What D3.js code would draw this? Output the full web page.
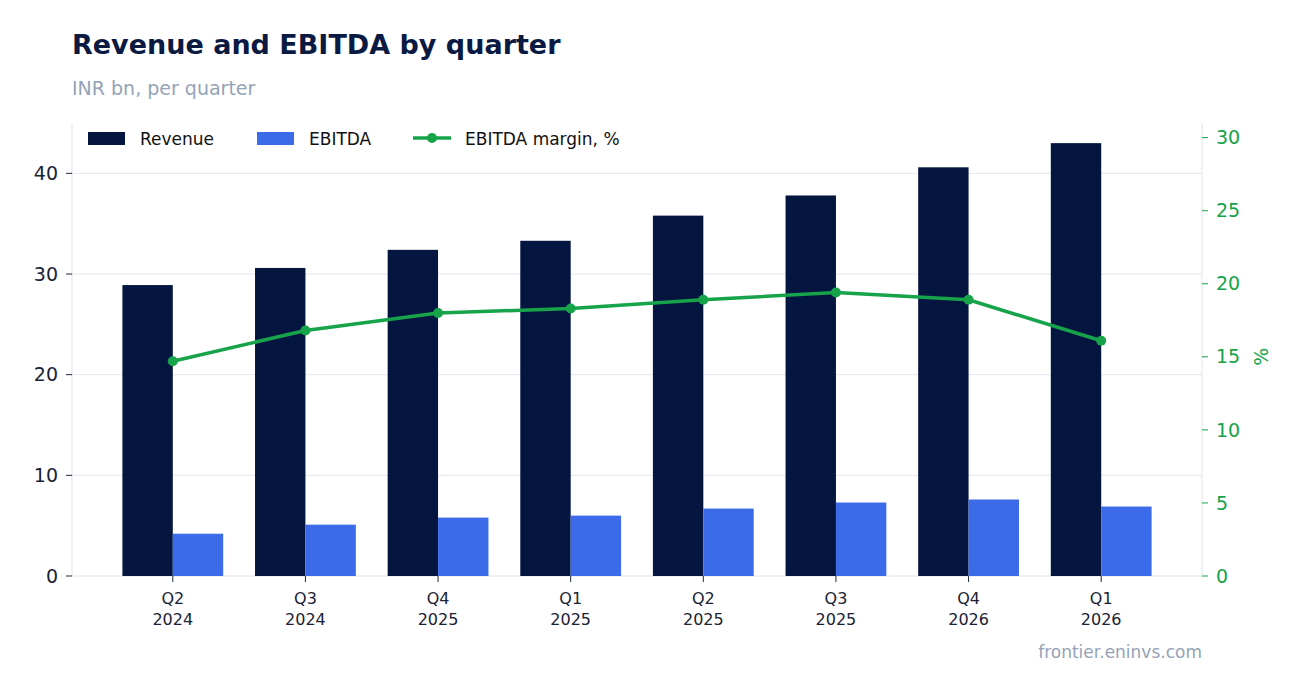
<!DOCTYPE html><html><head><meta charset="utf-8"><script src="https://cdn.jsdelivr.net/npm/d3@7"></script>
<style>body{margin:0;background:#fff;font-family:"DejaVu Sans",sans-serif}</style></head><body><svg id="c" width="1302" height="693"></svg>
<script>
const categories=["Q2\n2024","Q3\n2024","Q4\n2025","Q1\n2025","Q2\n2025","Q3\n2025","Q4\n2026","Q1\n2026"];
const revenue=[28.9,30.6,32.4,33.3,35.8,37.8,40.6,43.0];
const ebitda=[4.2,5.1,5.8,6.0,6.7,7.3,7.6,6.9];
const margin=[14.7,16.8,18.0,18.3,18.9,19.4,18.9,16.1];
const leftTicks=[0,10,20,30,40], rightTicks=[0,5,10,15,20,25,30];
const svg=d3.select("#c");
const L=72,R=1202,T=123,B=576;
const x=d3.scalePoint().domain(categories).range([L,R]).padding(0.76);
const y=d3.scaleLinear().domain([0,45]).range([B,T]);
const y2=d3.scaleLinear().domain([0,31]).range([B,T]);
const bw=x.step()*0.38;
svg.append("text").attr("x",72).attr("y",54).text("Revenue and EBITDA by quarter").attr("font-size",27).attr("font-weight","bold").attr("fill","#0b1a42");
svg.append("text").attr("x",72).attr("y",95).text("INR bn, per quarter").attr("font-size",19).attr("fill","#94a3b8");
svg.append("g").selectAll("line").data(leftTicks.slice(1)).join("line").attr("x1",L).attr("x2",R).attr("y1",d=>y(d)).attr("y2",d=>y(d)).attr("stroke","#e3e6f0");
svg.append("line").attr("x1",L).attr("x2",L).attr("y1",T).attr("y2",B).attr("stroke","#dfe3ec");
svg.append("line").attr("x1",R).attr("x2",R).attr("y1",T).attr("y2",B).attr("stroke","#dfe3ec");
svg.append("line").attr("x1",L).attr("x2",R).attr("y1",B).attr("y2",B).attr("stroke","#dfe3ec");
svg.append("g").selectAll("rect").data(revenue).join("rect").attr("x",(d,i)=>x(categories[i])-bw).attr("width",bw).attr("y",d=>y(d)).attr("height",d=>B-y(d)).attr("fill","#041640");
svg.append("g").selectAll("rect").data(ebitda).join("rect").attr("x",(d,i)=>x(categories[i])).attr("width",bw).attr("y",d=>y(d)).attr("height",d=>B-y(d)).attr("fill","#3b6be8");
const line=d3.line().x((d,i)=>x(categories[i])).y(d=>y2(d));
svg.append("path").datum(margin).attr("d",line).attr("fill","none").attr("stroke","#16a34a").attr("stroke-width",3.5);
svg.append("g").selectAll("circle").data(margin).join("circle").attr("cx",(d,i)=>x(categories[i])).attr("cy",d=>y2(d)).attr("r",5).attr("fill","#16a34a");
// left axis
const la=svg.append("g");
leftTicks.forEach(t=>{la.append("line").attr("x1",L-6).attr("x2",L).attr("y1",y(t)).attr("y2",y(t)).attr("stroke","#1e293b");
la.append("text").attr("x",L-14).attr("y",y(t)).attr("dy","0.35em").attr("text-anchor","end").attr("font-size",19).attr("fill","#1a2236").text(t);});
const ra=svg.append("g");
rightTicks.forEach(t=>{ra.append("line").attr("x1",R).attr("x2",R+6).attr("y1",y2(t)).attr("y2",y2(t)).attr("stroke","#16a34a");
ra.append("text").attr("x",R+14).attr("y",y2(t)).attr("dy","0.35em").attr("font-size",19).attr("fill","#16a34a").text(t);});
svg.append("text").attr("transform",`translate(1268,${y2(15)}) rotate(-90)`).attr("text-anchor","middle").attr("font-size",19).attr("fill","#16a34a").text("%");
const xa=svg.append("g");
categories.forEach(c=>{xa.append("line").attr("x1",x(c)).attr("x2",x(c)).attr("y1",B).attr("y2",B+6).attr("stroke","#1e293b");
const tx=xa.append("text").attr("text-anchor","middle").attr("font-size",16).attr("fill","#1a2236");
c.split("\n").forEach((s,k)=>tx.append("tspan").attr("x",x(c)).attr("y",604+k*21).text(s));});
// legend
const lg=svg.append("g").attr("font-size",17).attr("fill","#111");
lg.append("rect").attr("x",88).attr("y",132).attr("width",37).attr("height",13).attr("fill","#041640");
lg.append("text").attr("x",140).attr("y",145).text("Revenue");
lg.append("rect").attr("x",257).attr("y",132).attr("width",37).attr("height",13).attr("fill","#3b6be8");
lg.append("text").attr("x",309).attr("y",145).text("EBITDA");
lg.append("line").attr("x1",413).attr("x2",451).attr("y1",138).attr("y2",138).attr("stroke","#16a34a").attr("stroke-width",3.5);
lg.append("circle").attr("cx",432).attr("cy",138).attr("r",5).attr("fill","#16a34a");
lg.append("text").attr("x",465).attr("y",145).text("EBITDA margin, %");
svg.append("text").attr("x",1202).attr("y",658).attr("text-anchor","end").attr("font-size",17).attr("fill","#94a3b8").text("frontier.eninvs.com");
</script></body></html>
